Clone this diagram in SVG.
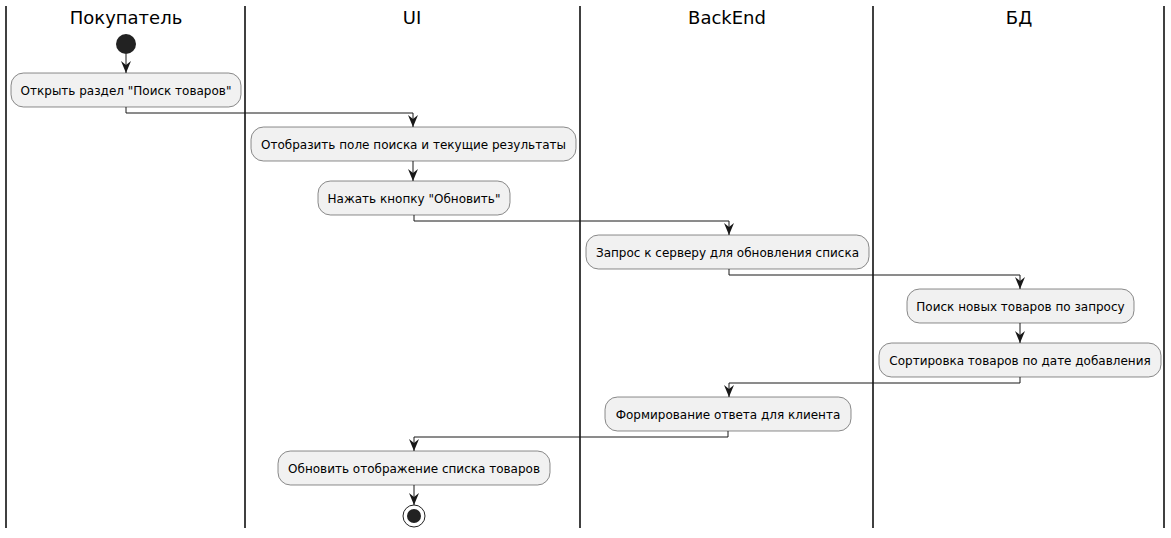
<svg xmlns="http://www.w3.org/2000/svg" width="1171" height="538" viewBox="0 0 1171 538">
<defs>
<style>
.lane{stroke:#000;stroke-width:1.5;fill:none}
.title{font-family:"DejaVu Sans",sans-serif;font-size:18px;fill:#000;text-anchor:middle}
.act rect{fill:#F1F1F1;stroke:#181818;stroke-width:0.5}
.act text{font-family:"DejaVu Sans",sans-serif;font-size:12px;fill:#000;text-anchor:middle}
.edge{stroke:#181818;stroke-width:1;fill:none;marker-end:url(#arr)}
</style>
<marker id="arr" viewBox="0 0 12 10" refX="12" refY="5" markerWidth="12" markerHeight="10" markerUnits="userSpaceOnUse" orient="auto">
<path d="M0,0 L12,5 L0,10 L4,5 Z" fill="#181818"/>
</marker>
</defs>
<rect width="1171" height="538" fill="#fff"/>
<g id="lanes">
<line class="lane" x1="6" y1="6" x2="6" y2="528"/>
<line class="lane" x1="245" y1="6" x2="245" y2="528"/>
<line class="lane" x1="580" y1="6" x2="580" y2="528"/>
<line class="lane" x1="873" y1="6" x2="873" y2="528"/>
<line class="lane" x1="1164" y1="6" x2="1164" y2="528"/>
<text class="title" x="126" y="24">Покупатель</text>
<text class="title" x="412" y="24">UI</text>
<text class="title" x="727" y="24">BackEnd</text>
<text class="title" x="1019" y="24">БД</text>
</g>
<g id="start"><circle cx="126" cy="44" r="10" fill="#222"/></g>
<g id="n1" class="act"><rect x="11" y="73" width="230" height="34" rx="12.5"/><text x="126" y="94.5">Открыть раздел "Поиск товаров"</text></g>
<g id="n2" class="act"><rect x="251" y="127" width="325" height="34" rx="12.5"/><text x="413.5" y="148.5">Отобразить поле поиска и текущие результаты</text></g>
<g id="n3" class="act"><rect x="318" y="181" width="192" height="34" rx="12.5"/><text x="414" y="202.5">Нажать кнопку "Обновить"</text></g>
<g id="n4" class="act"><rect x="586" y="235" width="283" height="34" rx="12.5"/><text x="727.5" y="256.5">Запрос к серверу для обновления списка</text></g>
<g id="n5" class="act"><rect x="907" y="289" width="227" height="34" rx="12.5"/><text x="1020.5" y="310.5">Поиск новых товаров по запросу</text></g>
<g id="n6" class="act"><rect x="879" y="343" width="282" height="34" rx="12.5"/><text x="1020" y="364.5">Сортировка товаров по дате добавления</text></g>
<g id="n7" class="act"><rect x="605" y="397" width="246" height="34" rx="12.5"/><text x="728" y="418.5">Формирование ответа для клиента</text></g>
<g id="n8" class="act"><rect x="278" y="451" width="272" height="34" rx="12.5"/><text x="414" y="472.5">Обновить отображение списка товаров</text></g>
<g id="end"><circle cx="414" cy="516" r="11" fill="none" stroke="#222" stroke-width="1"/><circle cx="414" cy="516" r="7" fill="#222"/></g>
<g id="connectors">
<path class="edge" d="M126,54 V73"/>
<path class="edge" d="M126,107 V113 H413 V127"/>
<path class="edge" d="M413,161 V181"/>
<path class="edge" d="M414,215 V221 H729 V235"/>
<path class="edge" d="M729,269 V275 H1020 V289"/>
<path class="edge" d="M1020,323 V343"/>
<path class="edge" d="M1020,377 V383 H729 V397"/>
<path class="edge" d="M728,431 V437 H414 V451"/>
<path class="edge" d="M414,485 V505"/>
</g>
</svg>
